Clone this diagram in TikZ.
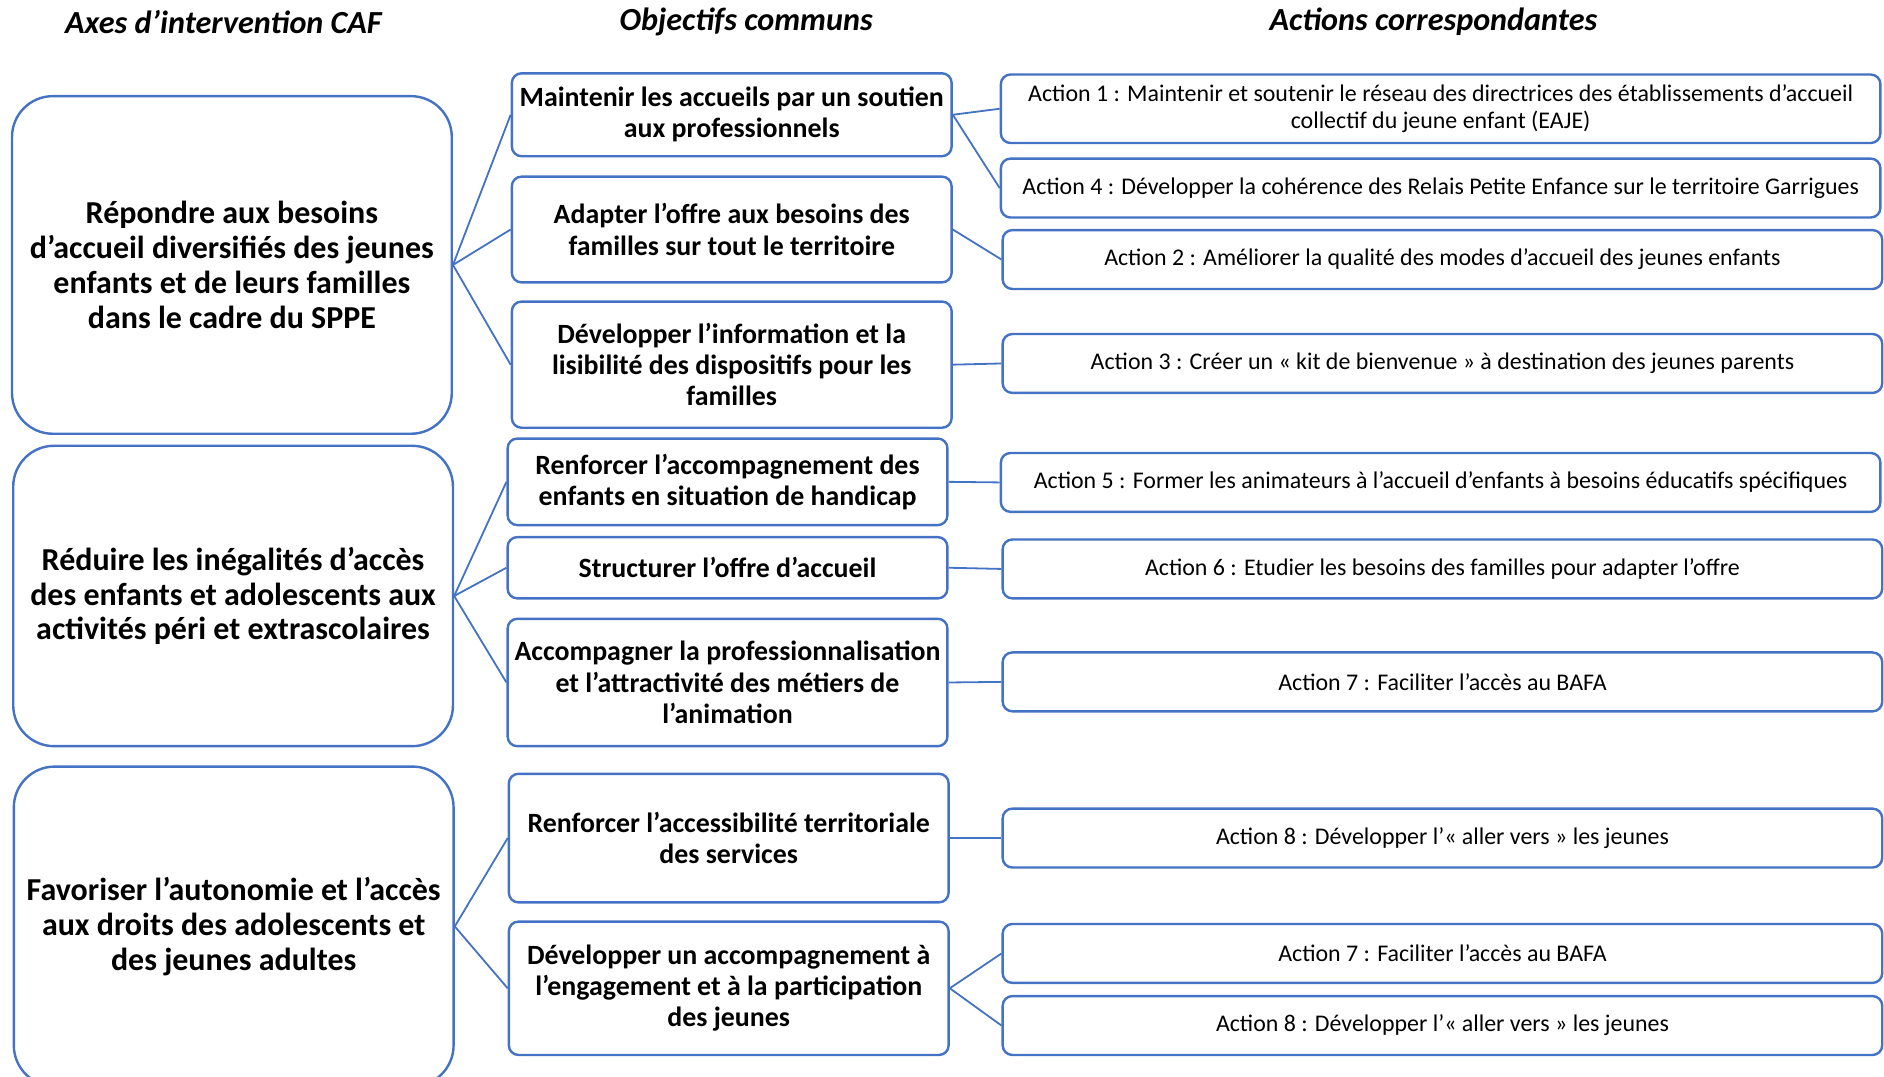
\documentclass[tikz,border=0pt]{standalone}
\usepackage{fontspec}
\setmainfont{Carlito}
\definecolor{caf}{HTML}{4472C4}
\tikzset{ax/.style={draw=caf,line width=1pt,rounded corners=17pt,align=center,inner sep=0pt,minimum width=183pt,font=\fontsize{13.3}{14.5}\selectfont\bfseries},
ob/.style={draw=caf,line width=1pt,rounded corners=4pt,align=center,inner sep=0pt,minimum width=183pt,font=\fontsize{11.6}{13}\selectfont\bfseries},
ac/.style={draw=caf,line width=1pt,rounded corners=4pt,align=center,inner sep=0pt,minimum width=366pt,minimum height=24.5pt,font=\fontsize{9.95}{11}\selectfont},
hd/.style={font=\fontsize{13.4}{15}\selectfont\bfseries\itshape},ln/.style={draw=caf,line width=0.75pt}}
\begin{document}
\begin{tikzpicture}[x=0.5pt,y=-0.5pt]
\path[use as bounding box](0,0)rectangle(1568,896);\clip(0,0)rectangle(1568,896);
% titres
\node[hd](h1)at(186,18){Axes d’intervention CAF};\node[hd](h2)at(621,18){Objectifs communs};\node[hd](h3)at(1193,18){Actions correspondantes};
% axes
\node[ax,minimum height=140.5pt](a1)at(193,220.5){Répondre aux besoins\\d’accueil diversifiés des jeunes\\enfants et de leurs familles\\dans le cadre du SPPE};
\node[ax,minimum height=125pt](a2)at(194,496){Réduire les inégalités d’accès\\des enfants et adolescents aux\\activités péri et extrascolaires};
\node[ax,minimum height=133pt](a3)at(194.5,771){Favoriser l’autonomie et l’accès\\aux droits des adolescents et\\des jeunes adultes};
% objectifs
\node[ob,minimum height=34.5pt](m1)at(609,95.5){Maintenir les accueils par un soutien\\aux professionnels};
\node[ob,minimum height=44pt](m2)at(609,191){Adapter l’offre aux besoins des\\familles sur tout le territoire};
\node[ob,minimum height=52.5pt](m3)at(609,303.5){Développer l’information et la\\lisibilité des dispositifs pour les\\familles};
\node[ob,minimum height=36pt](m4)at(605.5,401){Renforcer l’accompagnement des\\enfants en situation de handicap};
\node[ob,minimum height=25.5pt](m5)at(605.5,472.5){Structurer l’offre d’accueil};
\node[ob,minimum height=53pt](m6)at(605.5,568){Accompagner la professionnalisation\\et l’attractivité des métiers de\\l’animation};
\node[ob,minimum height=53.5pt](m7)at(606.5,697.5){Renforcer l’accessibilité territoriale\\des services};
\node[ob,minimum height=55.5pt](m8)at(606.5,822.5){Développer un accompagnement à\\l’engagement et à la participation\\des jeunes};
% actions
\node[ac,minimum height=28.5pt](r1)at(1199,90.5){Action 1 : Maintenir et soutenir le réseau des directrices des établissements d’accueil\\collectif du jeune enfant (EAJE)};
\node[ac](r4)at(1199,156.5){Action 4 : Développer la cohérence des Relais Petite Enfance sur le territoire Garrigues};
\node[ac](r2)at(1200.5,216){Action 2 : Améliorer la qualité des modes d’accueil des jeunes enfants};
\node[ac](r3)at(1200.5,302.5){Action 3 : Créer un « kit de bienvenue » à destination des jeunes parents};
\node[ac](r5)at(1199,401.5){Action 5 : Former les animateurs à l’accueil d’enfants à besoins éducatifs spécifiques};
\node[ac](r6)at(1200.5,473.5){Action 6 : Etudier les besoins des familles pour adapter l’offre};
\node[ac](r7)at(1200.5,567.5){Action 7 : Faciliter l’accès au BAFA};
\node[ac](r8)at(1200.5,697.5){Action 8 : Développer l’« aller vers » les jeunes};
\node[ac](r7b)at(1200.5,793.5){Action 7 : Faciliter l’accès au BAFA};
\node[ac](r8b)at(1200.5,853.5){Action 8 : Développer l’« aller vers » les jeunes};
\foreach\a/\b in{a1/m1,a1/m2,a1/m3,m1/r1,m1/r4,m2/r2,m3/r3,a2/m4,a2/m5,a2/m6,m4/r5,m5/r6,m6/r7,a3/m7,a3/m8,m7/r8,m8/r7b,m8/r8b}\draw[ln](\a.east)--(\b.west);
\end{tikzpicture}
\end{document}
